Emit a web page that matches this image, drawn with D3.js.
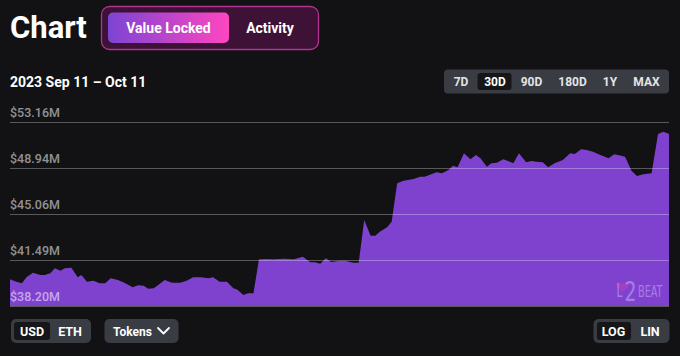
<!DOCTYPE html>
<html><head><meta charset="utf-8">
<script src="https://cdn.jsdelivr.net/npm/d3@7"></script>
<style>
html,body{margin:0;padding:0;background:#121214;}
svg{display:block;font-family:Roboto,"Noto Sans",sans-serif;}
</style></head><body>
<svg id="c" width="680" height="356"></svg>
<script>
// ---- data ----
const startDate = "2023-09-11T00:00:00Z";
const hours = [0,7,13,18,25,33,38,44,49,55,60,67,74,78,84,91,98,104,110,118,126,134,140,146,151,157,162,169,177,186,193,200,208,217,222,229,237,244,248,251,255,260,266,272,280,288,299,310,320,328,333,339,345,351,359,366,375,381,387,394,399,404,412,417,423,430,441,448,453,461,466,472,479,484,489,496,503,509,514,521,526,532,539,544,550,556,564,570,575,582,588,595,604,612,617,624,630,637,645,654,660,668,672,679,685,692,701,708,714,720];
const tvl = [40.08,39.90,39.79,40.22,40.55,40.39,40.39,40.51,40.88,40.70,40.88,40.92,40.22,40.39,39.90,39.98,39.79,39.79,40.15,40.03,39.79,39.50,39.65,39.62,39.41,39.43,39.67,40.03,39.83,39.83,39.98,40.22,40.22,40.15,40.22,39.90,39.90,39.43,39.35,39.19,38.96,39.08,39.08,41.54,41.57,41.54,41.59,41.54,41.74,41.32,41.32,41.22,41.62,41.34,41.42,41.44,41.29,41.29,44.58,43.34,43.34,43.65,44.00,44.45,47.62,47.84,47.99,48.19,48.19,48.42,48.57,48.48,48.77,49.15,49.01,50.26,49.72,50.10,49.81,49.06,49.36,49.41,49.72,49.57,49.36,50.26,49.45,49.57,49.50,49.45,49.01,49.36,49.65,50.26,50.19,50.62,50.55,50.40,50.10,49.81,50.17,50.04,49.95,48.71,48.25,48.40,48.48,52.03,52.24,52.03];
const yTicks = [38.20,41.49,45.06,48.94,53.16];
const yTickLabels = ["$38.20M","$41.49M","$45.06M","$48.94M","$53.16M"];
const rangeButtons = ["7D","30D","90D","180D","1Y","MAX"];
const selectedRange = "30D";
const tabs = ["Value Locked","Activity"];
const dateLabel = "2023 Sep 11 \u2013 Oct 11";

// ---- setup ----
const svg = d3.select("#c");
const t0 = new Date(startDate);
const data = hours.map((h,i)=>({date:new Date(t0.getTime()+h*3600e3), v:tvl[i]}));

const x = d3.scaleTime().domain([t0, new Date(t0.getTime()+720*3600e3)]).range([10,669]);
const y = d3.scaleLog().domain([38.20,53.16]).range([306,122]);

// header
svg.append("text").attr("x",10).attr("y",38).attr("fill","#fff")
  .attr("font-size",31).attr("font-weight",700).text("Chart");

const defs = svg.append("defs");
const g1 = defs.append("linearGradient").attr("id","tabgrad").attr("x1","0").attr("x2","1");
g1.append("stop").attr("offset","0").attr("stop-color","#7c44d4");
g1.append("stop").attr("offset","1").attr("stop-color","#ff46c0");

svg.append("rect").attr("x",101.5).attr("y",6.5).attr("width",217).attr("height",43).attr("rx",8)
  .attr("fill","#3e1236").attr("stroke","#b0338f").attr("stroke-width",1.3);
svg.append("rect").attr("x",108).attr("y",12.5).attr("width",121).attr("height",30.5).attr("rx",5)
  .attr("fill","url(#tabgrad)");
svg.append("text").attr("x",168.5).attr("y",33).attr("text-anchor","middle").attr("fill","#fff")
  .attr("font-size",14).attr("font-weight",700).text(tabs[0]);
svg.append("text").attr("x",270).attr("y",33).attr("text-anchor","middle").attr("fill","#fff")
  .attr("font-size",14).attr("font-weight",700).text(tabs[1]);

// date label
svg.append("text").attr("x",10).attr("y",87).attr("fill","#fff")
  .attr("font-size",14).attr("font-weight",700).text(dateLabel);

// range buttons
svg.append("rect").attr("x",444).attr("y",69.5).attr("width",225).attr("height",24).attr("rx",4).attr("fill","#393c43");
const rbCenters = [461,495,531.5,572.5,610,646.5];
const selIdx = rangeButtons.indexOf(selectedRange);
svg.append("rect").attr("x",477.5).attr("y",73).attr("width",34).attr("height",17).attr("rx",3).attr("fill","#161618");
rangeButtons.forEach((b,i)=>{
  svg.append("text").attr("x",rbCenters[i]).attr("y",86).attr("text-anchor","middle")
    .attr("fill", i===selIdx?"#fff":"#e4e4e4").attr("font-size",12).attr("font-weight",700).text(b);
});

// area
const area = d3.area().x(d=>x(d.date)).y0(y(38.20)).y1(d=>y(d.v)).curve(d3.curveLinear);
svg.append("path").datum(data).attr("d",area).attr("fill","#7f42cf");

// watermark
const wmFont = "'DejaVu Sans Condensed','Liberation Sans Narrow',sans-serif";
svg.append("path").attr("d","M622.5,292 C617,288 615,285 617,283 C619,281.5 621.5,282.5 622.5,284.5 C623.5,282.5 626,281.5 628,283 C630,285 628,288 622.5,292 Z")
  .attr("fill","#e040b0").attr("opacity",0.35);
const wm = svg.append("g").attr("fill","#d9c2ff").attr("opacity",0.45);
wm.append("text").attr("x",616.5).attr("y",297).attr("font-size",19).attr("textLength",6).attr("lengthAdjust","spacingAndGlyphs").attr("font-family",wmFont).text("L");
wm.append("text").attr("x",624.5).attr("y",301).attr("font-size",26).attr("textLength",12).attr("lengthAdjust","spacingAndGlyphs").attr("font-family",wmFont).text("2");
wm.append("text").attr("x",638).attr("y",296.7).attr("font-size",16).attr("textLength",24.5).attr("lengthAdjust","spacingAndGlyphs")
  .attr("font-family",wmFont).text("BEAT");

// gridlines & labels
yTicks.forEach((t,i)=>{
  svg.append("line").attr("x1",10).attr("x2",669).attr("y1",Math.round(y(t))+0.5).attr("y2",Math.round(y(t))+0.5)
    .attr("stroke","#fff").attr("stroke-opacity",0.3).attr("stroke-width",1);
  svg.append("text").attr("x",10).attr("y",y(t)-5).attr("fill","#fff").attr("fill-opacity",0.55)
    .attr("font-size",12.5).attr("font-weight",500).text(yTickLabels[i]);
});

// bottom controls
function group(xg, w, items, centers, selX, selW){
  svg.append("rect").attr("x",xg).attr("y",319).attr("width",w).attr("height",24).attr("rx",5).attr("fill","#393c43");
  svg.append("rect").attr("x",selX).attr("y",322).attr("width",selW).attr("height",18).attr("rx",3).attr("fill","#161618");
  items.forEach((it,i)=>{
    svg.append("text").attr("x",centers[i]).attr("y",335.5).attr("text-anchor","middle")
      .attr("fill","#fff").attr("font-size",12.5).attr("font-weight",700).text(it);
  });
}
group(11,80,["USD","ETH"],[32,70],14,36);
group(593.5,76,["LOG","LIN"],[613.5,650],597,34);
svg.append("rect").attr("x",104.5).attr("y",319).attr("width",74).attr("height",24).attr("rx",5).attr("fill","#393c43");
svg.append("text").attr("x",113).attr("y",335.5).attr("fill","#fff").attr("font-size",12).attr("font-weight",700).text("Tokens");
svg.append("path").attr("d","M158,328 L163.5,333.5 L169,328").attr("fill","none").attr("stroke","#fff").attr("stroke-width",1.8).attr("stroke-linecap","round").attr("stroke-linejoin","round");
</script>
</body></html>
